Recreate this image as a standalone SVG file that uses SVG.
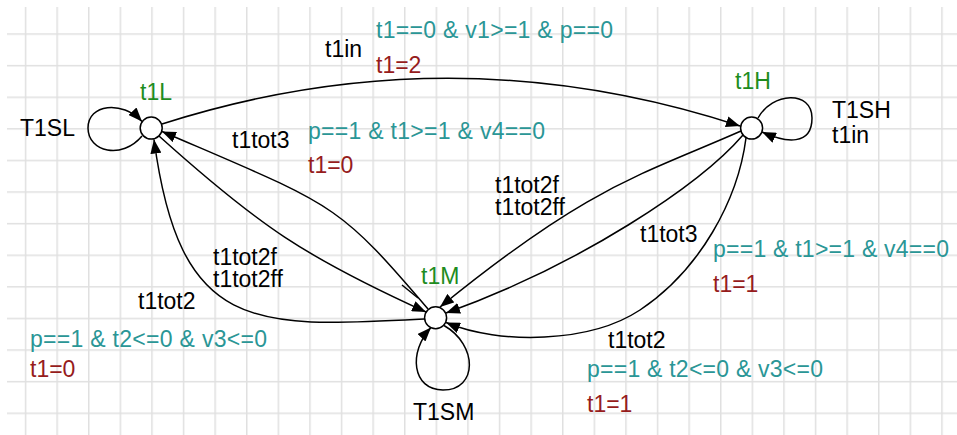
<svg xmlns="http://www.w3.org/2000/svg" width="957" height="435" viewBox="0 0 957 435">
<defs>
<marker id="arr" markerUnits="userSpaceOnUse" markerWidth="15" markerHeight="11" refX="14" refY="5.5" orient="auto">
<path d="M0,0 L14,5.5 L0,11 z" fill="#000"/>
</marker>
<pattern id="grid" x="24.8" y="33.3" width="31.6" height="31.6" patternUnits="userSpaceOnUse">
<path d="M0,0 V31.6 M0,0 H31.6" stroke="#e0e0e0" stroke-width="3" fill="none"/>
</pattern>
</defs>
<style>
.t{font-family:"Liberation Sans",Arial,sans-serif;font-size:23px}
.k{fill:#000}
.g{fill:#1e8c1e}
.c{fill:#2a9696}
.r{fill:#961c1c}
.e{fill:none;stroke:#000;stroke-width:1.5;marker-end:url(#arr)}
.n{fill:#fff;stroke:#000;stroke-width:1.5}
</style>
<rect width="957" height="435" fill="#fff"/>
<rect x="7" y="7" width="950" height="428" fill="url(#grid)"/>
<g id="connectors">
<path class="e" d="M162,124 Q451,31.5 740,126"/>
<path class="e" d="M142,136 C122,160 88,152 88,128 C88,104 122,100 142,121.5"/>
<path class="e" d="M758,118 C772,92 812,90 812,118 C812,146 786,143 762,132"/>
<path class="e" d="M444,325.5 C478,345 478,390 443,390 C412,390 408,352 431,327.5"/>
<path class="e" d="M428,309 C336,201 335,206 162,131.5"/>
<path class="e" d="M159,136 C259,226 305,257 426,312"/>
<path class="e" d="M424.5,319 C254,328 180,334 154,139.5"/>
<path class="e" d="M741,131 C640,175.5 590,185 440,307"/>
<path class="e" d="M743,135 C700,185 580,265 446,313"/>
<path class="e" d="M746,138 C738,200 700,270 640,310 C590,343 500,345 446,322.5"/>
<path d="M402,285 L418,298" stroke="#000" stroke-width="1.5"/>
</g>
<g id="t1L">
<circle class="n" cx="151.2" cy="128.1" r="11"/>
<text class="t g" x="140" y="100">t1L</text>
</g>
<g id="t1H">
<circle class="n" cx="751.6" cy="128.1" r="11"/>
<text class="t g" x="735" y="89">t1H</text>
</g>
<g id="t1M">
<circle class="n" cx="435.6" cy="317.7" r="11"/>
<text class="t g" x="421" y="284">t1M</text>
</g>
<g id="labels">
<text class="t k" x="20" y="136">T1SL</text>
<text class="t k" x="832" y="118">T1SH</text>
<text class="t k" x="832" y="143">t1in</text>
<text class="t k" x="413" y="420">T1SM</text>
<text class="t k" x="325" y="57">t1in</text>
<text class="t c" x="376" y="38" textLength="237" lengthAdjust="spacing">t1==0 &amp; v1&gt;=1 &amp; p==0</text>
<text class="t r" x="376" y="73">t1=2</text>
<text class="t k" x="232" y="148">t1tot3</text>
<text class="t c" x="308" y="139" textLength="237" lengthAdjust="spacing">p==1 &amp; t1&gt;=1 &amp; v4==0</text>
<text class="t r" x="308" y="173">t1=0</text>
<text class="t k" x="495" y="193">t1tot2f</text>
<text class="t k" x="495" y="215">t1tot2ff</text>
<text class="t k" x="213" y="265">t1tot2f</text>
<text class="t k" x="213" y="287">t1tot2ff</text>
<text class="t k" x="138" y="309">t1tot2</text>
<text class="t c" x="30" y="347" textLength="237" lengthAdjust="spacing">p==1 &amp; t2&lt;=0 &amp; v3&lt;=0</text>
<text class="t r" x="30" y="377">t1=0</text>
<text class="t k" x="640" y="242">t1tot3</text>
<text class="t c" x="713" y="257" textLength="236" lengthAdjust="spacing">p==1 &amp; t1&gt;=1 &amp; v4==0</text>
<text class="t r" x="713" y="292">t1=1</text>
<text class="t k" x="608" y="348">t1tot2</text>
<text class="t c" x="587" y="377" textLength="236" lengthAdjust="spacing">p==1 &amp; t2&lt;=0 &amp; v3&lt;=0</text>
<text class="t r" x="587" y="412">t1=1</text>
</g>
</svg>
